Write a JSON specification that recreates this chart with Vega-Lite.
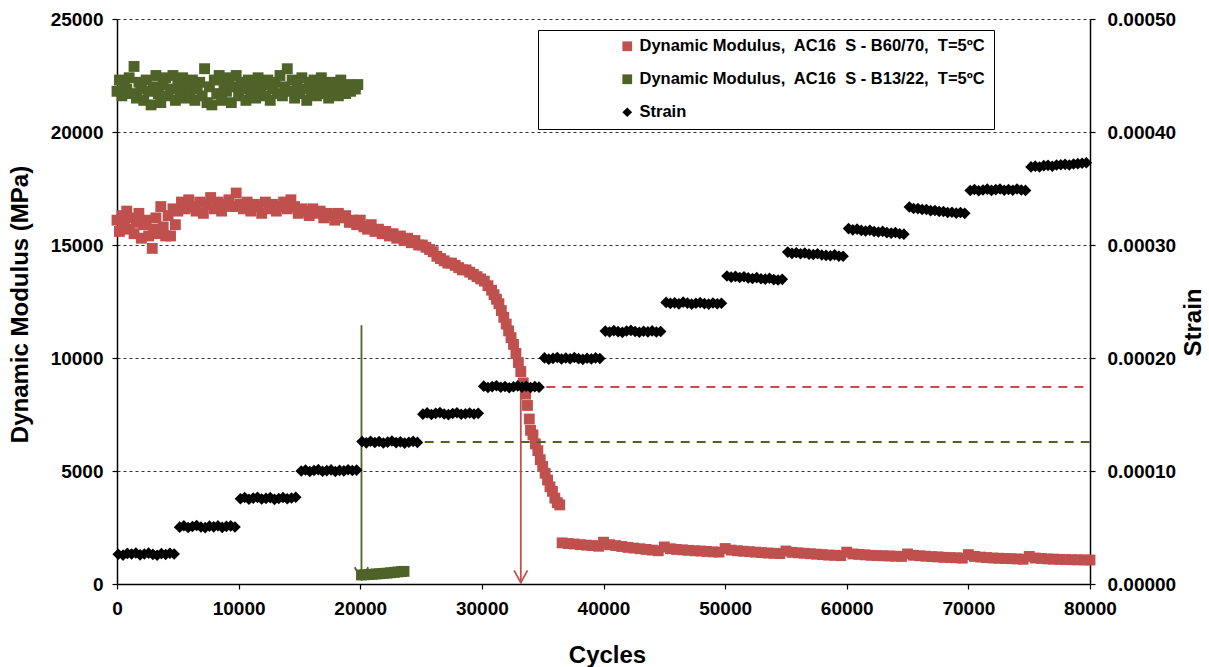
{
"$schema":"https://vega.github.io/schema/vega-lite/v6.json",
"width":973,"height":565,
"autosize":"none",
"padding":{"left":117,"top":19,"right":119,"bottom":83},
"background":"white",
"config":{"view":{"stroke":null},"font":"Liberation Sans",
"axis":{"labelFont":"Liberation Sans","labelFontWeight":"bold","labelFontSize":19,"labelColor":"#000","titleFont":"Liberation Sans","titleFontWeight":"bold","titleFontSize":24,"titleColor":"#000","domainColor":"#000","domainWidth":1.5,"tickColor":"#000","tickSize":5,"tickWidth":1.2,"grid":false}},
"datasets":{
"mod":[
{"c":0,"v":16100,"s":"R"},{"c":200,"v":15600,"s":"R"},{"c":400,"v":16300,"s":"R"},{"c":600,"v":15900,"s":"R"},{"c":800,"v":16500,"s":"R"},{"c":1000,"v":15700,"s":"R"},{"c":1200,"v":16200,"s":"R"},{"c":1400,"v":15500,"s":"R"},{"c":1600,"v":16000,"s":"R"},{"c":1800,"v":16400,"s":"R"},{"c":2000,"v":15300,"s":"R"},{"c":2200,"v":15900,"s":"R"},{"c":2400,"v":16100,"s":"R"},{"c":2600,"v":15400,"s":"R"},{"c":2900,"v":14850,"s":"R"},{"c":3000,"v":15700,"s":"R"},{"c":3200,"v":16200,"s":"R"},{"c":3400,"v":15500,"s":"R"},{"c":3600,"v":16700,"s":"R"},{"c":3800,"v":15800,"s":"R"},{"c":4000,"v":15400,"s":"R"},{"c":4200,"v":16300,"s":"R"},{"c":4400,"v":15400,"s":"R"},{"c":4600,"v":16600,"s":"R"},{"c":4800,"v":15900,"s":"R"},{"c":5000,"v":16500,"s":"R"},{"c":5300,"v":16900,"s":"R"},{"c":5600,"v":16600,"s":"R"},{"c":5900,"v":17000,"s":"R"},{"c":6200,"v":16700,"s":"R"},{"c":6500,"v":16500,"s":"R"},{"c":6800,"v":16900,"s":"R"},{"c":7100,"v":16400,"s":"R"},{"c":7400,"v":16800,"s":"R"},{"c":7700,"v":17100,"s":"R"},{"c":8000,"v":16600,"s":"R"},{"c":8300,"v":16900,"s":"R"},{"c":8600,"v":16500,"s":"R"},{"c":8900,"v":16800,"s":"R"},{"c":9200,"v":17000,"s":"R"},{"c":9500,"v":16700,"s":"R"},{"c":9800,"v":17300,"s":"R"},{"c":10100,"v":16800,"s":"R"},{"c":10400,"v":16600,"s":"R"},{"c":10700,"v":16900,"s":"R"},{"c":11000,"v":16500,"s":"R"},{"c":11300,"v":16800,"s":"R"},{"c":11600,"v":16700,"s":"R"},{"c":11900,"v":16400,"s":"R"},{"c":12200,"v":16900,"s":"R"},{"c":12500,"v":16600,"s":"R"},{"c":12800,"v":16800,"s":"R"},{"c":13100,"v":16500,"s":"R"},{"c":13400,"v":16700,"s":"R"},{"c":13700,"v":16900,"s":"R"},{"c":14000,"v":16600,"s":"R"},{"c":14300,"v":17000,"s":"R"},{"c":14600,"v":16700,"s":"R"},{"c":14900,"v":16400,"s":"R"},{"c":15200,"v":16600,"s":"R"},{"c":15500,"v":16500,"s":"R"},{"c":15800,"v":16300,"s":"R"},{"c":16100,"v":16600,"s":"R"},{"c":16400,"v":16400,"s":"R"},{"c":16700,"v":16500,"s":"R"},{"c":17000,"v":16200,"s":"R"},{"c":17300,"v":16400,"s":"R"},{"c":17600,"v":16300,"s":"R"},{"c":17900,"v":16100,"s":"R"},{"c":18200,"v":16400,"s":"R"},{"c":18500,"v":16200,"s":"R"},{"c":18800,"v":16300,"s":"R"},{"c":19100,"v":16000,"s":"R"},{"c":19400,"v":16100,"s":"R"},{"c":19700,"v":15900,"s":"R"},{"c":20000,"v":16100,"s":"R"},{"c":20300,"v":15800,"s":"R"},{"c":20600,"v":15700,"s":"R"},{"c":20900,"v":15900,"s":"R"},{"c":21200,"v":15600,"s":"R"},{"c":21500,"v":15700,"s":"R"},{"c":21800,"v":15500,"s":"R"},{"c":22100,"v":15600,"s":"R"},{"c":22400,"v":15400,"s":"R"},{"c":22700,"v":15500,"s":"R"},{"c":23000,"v":15300,"s":"R"},{"c":23300,"v":15400,"s":"R"},{"c":23600,"v":15200,"s":"R"},{"c":23900,"v":15300,"s":"R"},{"c":24200,"v":15100,"s":"R"},{"c":24500,"v":15200,"s":"R"},{"c":24800,"v":15000,"s":"R"},{"c":25100,"v":15000,"s":"R"},{"c":25400,"v":14900,"s":"R"},{"c":25700,"v":14800,"s":"R"},{"c":26000,"v":14700,"s":"R"},{"c":26300,"v":14500,"s":"R"},{"c":26600,"v":14400,"s":"R"},{"c":26900,"v":14300,"s":"R"},{"c":27200,"v":14200,"s":"R"},{"c":27500,"v":14200,"s":"R"},{"c":27800,"v":14100,"s":"R"},{"c":28100,"v":14000,"s":"R"},{"c":28400,"v":13900,"s":"R"},{"c":28700,"v":13900,"s":"R"},{"c":29000,"v":13800,"s":"R"},{"c":29300,"v":13700,"s":"R"},{"c":29600,"v":13600,"s":"R"},{"c":29900,"v":13500,"s":"R"},{"c":30200,"v":13400,"s":"R"},{"c":30500,"v":13200,"s":"R"},{"c":30800,"v":13000,"s":"R"},{"c":31000,"v":12800,"s":"R"},{"c":31200,"v":12600,"s":"R"},{"c":31400,"v":12400,"s":"R"},{"c":31600,"v":12100,"s":"R"},{"c":31800,"v":11800,"s":"R"},{"c":32000,"v":11500,"s":"R"},{"c":32200,"v":11200,"s":"R"},{"c":32400,"v":10900,"s":"R"},{"c":32600,"v":10600,"s":"R"},{"c":32800,"v":10200,"s":"R"},{"c":33000,"v":9800,"s":"R"},{"c":33200,"v":9400,"s":"R"},{"c":33400,"v":8900,"s":"R"},{"c":33600,"v":8400,"s":"R"},{"c":33750,"v":7900,"s":"R"},{"c":33900,"v":7300,"s":"R"},{"c":34000,"v":6800,"s":"R"},{"c":34200,"v":6600,"s":"R"},{"c":34400,"v":6200,"s":"R"},{"c":34600,"v":5900,"s":"R"},{"c":34800,"v":5500,"s":"R"},{"c":35000,"v":5200,"s":"R"},{"c":35200,"v":4900,"s":"R"},{"c":35400,"v":4600,"s":"R"},{"c":35600,"v":4300,"s":"R"},{"c":35800,"v":4100,"s":"R"},{"c":36000,"v":3800,"s":"R"},{"c":36200,"v":3600,"s":"R"},{"c":36400,"v":3500,"s":"R"},
{"c":36600,"v":1820,"s":"R"},{"c":37100,"v":1790,"s":"R"},{"c":37600,"v":1770,"s":"R"},{"c":38100,"v":1740,"s":"R"},{"c":38600,"v":1720,"s":"R"},{"c":39100,"v":1700,"s":"R"},{"c":39600,"v":1670,"s":"R"},{"c":40000,"v":1850,"s":"R"},{"c":40500,"v":1740,"s":"R"},{"c":41000,"v":1700,"s":"R"},{"c":41500,"v":1660,"s":"R"},{"c":42000,"v":1620,"s":"R"},{"c":42500,"v":1590,"s":"R"},{"c":43000,"v":1560,"s":"R"},{"c":43500,"v":1530,"s":"R"},{"c":44000,"v":1500,"s":"R"},{"c":44500,"v":1470,"s":"R"},{"c":45000,"v":1640,"s":"R"},{"c":45500,"v":1560,"s":"R"},{"c":46000,"v":1530,"s":"R"},{"c":46500,"v":1510,"s":"R"},{"c":47000,"v":1490,"s":"R"},{"c":47500,"v":1470,"s":"R"},{"c":48000,"v":1460,"s":"R"},{"c":48500,"v":1440,"s":"R"},{"c":49000,"v":1420,"s":"R"},{"c":49500,"v":1410,"s":"R"},{"c":50000,"v":1570,"s":"R"},{"c":50500,"v":1500,"s":"R"},{"c":51000,"v":1470,"s":"R"},{"c":51500,"v":1450,"s":"R"},{"c":52000,"v":1430,"s":"R"},{"c":52500,"v":1410,"s":"R"},{"c":53000,"v":1390,"s":"R"},{"c":53500,"v":1370,"s":"R"},{"c":54000,"v":1360,"s":"R"},{"c":54500,"v":1345,"s":"R"},{"c":55000,"v":1460,"s":"R"},{"c":55500,"v":1400,"s":"R"},{"c":56000,"v":1380,"s":"R"},{"c":56500,"v":1360,"s":"R"},{"c":57000,"v":1340,"s":"R"},{"c":57500,"v":1320,"s":"R"},{"c":58000,"v":1300,"s":"R"},{"c":58500,"v":1280,"s":"R"},{"c":59000,"v":1270,"s":"R"},{"c":59500,"v":1255,"s":"R"},{"c":60000,"v":1410,"s":"R"},{"c":60500,"v":1330,"s":"R"},{"c":61000,"v":1310,"s":"R"},{"c":61500,"v":1290,"s":"R"},{"c":62000,"v":1270,"s":"R"},{"c":62500,"v":1260,"s":"R"},{"c":63000,"v":1250,"s":"R"},{"c":63500,"v":1240,"s":"R"},{"c":64000,"v":1230,"s":"R"},{"c":64500,"v":1220,"s":"R"},{"c":65000,"v":1330,"s":"R"},{"c":65500,"v":1270,"s":"R"},{"c":66000,"v":1250,"s":"R"},{"c":66500,"v":1230,"s":"R"},{"c":67000,"v":1210,"s":"R"},{"c":67500,"v":1200,"s":"R"},{"c":68000,"v":1180,"s":"R"},{"c":68500,"v":1170,"s":"R"},{"c":69000,"v":1160,"s":"R"},{"c":69500,"v":1145,"s":"R"},{"c":70000,"v":1300,"s":"R"},{"c":70500,"v":1220,"s":"R"},{"c":71000,"v":1190,"s":"R"},{"c":71500,"v":1170,"s":"R"},{"c":72000,"v":1150,"s":"R"},{"c":72500,"v":1140,"s":"R"},{"c":73000,"v":1130,"s":"R"},{"c":73500,"v":1120,"s":"R"},{"c":74000,"v":1110,"s":"R"},{"c":74500,"v":1095,"s":"R"},{"c":75000,"v":1220,"s":"R"},{"c":75500,"v":1150,"s":"R"},{"c":76000,"v":1130,"s":"R"},{"c":76500,"v":1110,"s":"R"},{"c":77000,"v":1100,"s":"R"},{"c":77500,"v":1090,"s":"R"},{"c":78000,"v":1080,"s":"R"},{"c":78500,"v":1075,"s":"R"},{"c":79000,"v":1070,"s":"R"},{"c":79500,"v":1065,"s":"R"},{"c":80000,"v":1060,"s":"R"},
{"c":0,"v":21800,"s":"G"},{"c":200,"v":22300,"s":"G"},{"c":400,"v":21600,"s":"G"},{"c":600,"v":22100,"s":"G"},{"c":800,"v":21900,"s":"G"},{"c":1000,"v":22400,"s":"G"},{"c":1200,"v":21700,"s":"G"},{"c":1400,"v":22900,"s":"G"},{"c":1600,"v":21500,"s":"G"},{"c":1800,"v":22200,"s":"G"},{"c":2000,"v":21900,"s":"G"},{"c":2200,"v":21400,"s":"G"},{"c":2400,"v":22300,"s":"G"},{"c":2600,"v":21800,"s":"G"},{"c":2800,"v":21200,"s":"G"},{"c":3000,"v":22000,"s":"G"},{"c":3200,"v":22500,"s":"G"},{"c":3400,"v":21700,"s":"G"},{"c":3600,"v":21300,"s":"G"},{"c":3800,"v":22100,"s":"G"},{"c":4000,"v":22400,"s":"G"},{"c":4200,"v":21600,"s":"G"},{"c":4400,"v":21900,"s":"G"},{"c":4600,"v":22500,"s":"G"},{"c":4800,"v":21400,"s":"G"},{"c":5000,"v":22200,"s":"G"},{"c":5200,"v":21800,"s":"G"},{"c":5400,"v":22400,"s":"G"},{"c":5600,"v":21500,"s":"G"},{"c":5800,"v":22000,"s":"G"},{"c":6000,"v":21700,"s":"G"},{"c":6200,"v":22300,"s":"G"},{"c":6400,"v":21400,"s":"G"},{"c":6600,"v":21900,"s":"G"},{"c":6800,"v":22200,"s":"G"},{"c":7000,"v":21600,"s":"G"},{"c":7200,"v":22800,"s":"G"},{"c":7400,"v":21300,"s":"G"},{"c":7600,"v":22000,"s":"G"},{"c":7800,"v":21200,"s":"G"},{"c":8000,"v":22300,"s":"G"},{"c":8200,"v":21700,"s":"G"},{"c":8400,"v":22500,"s":"G"},{"c":8600,"v":21400,"s":"G"},{"c":8800,"v":22100,"s":"G"},{"c":9000,"v":21800,"s":"G"},{"c":9200,"v":22400,"s":"G"},{"c":9400,"v":21300,"s":"G"},{"c":9600,"v":22000,"s":"G"},{"c":9800,"v":22500,"s":"G"},{"c":10000,"v":21600,"s":"G"},{"c":10200,"v":22200,"s":"G"},{"c":10400,"v":21900,"s":"G"},{"c":10600,"v":21400,"s":"G"},{"c":10800,"v":22300,"s":"G"},{"c":11000,"v":21700,"s":"G"},{"c":11200,"v":22000,"s":"G"},{"c":11400,"v":21500,"s":"G"},{"c":11600,"v":22400,"s":"G"},{"c":11800,"v":21800,"s":"G"},{"c":12000,"v":22100,"s":"G"},{"c":12200,"v":21600,"s":"G"},{"c":12400,"v":22300,"s":"G"},{"c":12600,"v":21400,"s":"G"},{"c":12800,"v":21900,"s":"G"},{"c":13000,"v":22200,"s":"G"},{"c":13200,"v":21700,"s":"G"},{"c":13400,"v":22500,"s":"G"},{"c":13600,"v":21600,"s":"G"},{"c":13800,"v":22000,"s":"G"},{"c":14000,"v":22800,"s":"G"},{"c":14200,"v":21800,"s":"G"},{"c":14400,"v":22300,"s":"G"},{"c":14600,"v":21500,"s":"G"},{"c":14800,"v":22100,"s":"G"},{"c":15000,"v":21700,"s":"G"},{"c":15200,"v":22400,"s":"G"},{"c":15400,"v":21900,"s":"G"},{"c":15600,"v":21400,"s":"G"},{"c":15800,"v":22200,"s":"G"},{"c":16000,"v":21800,"s":"G"},{"c":16200,"v":22300,"s":"G"},{"c":16400,"v":21600,"s":"G"},{"c":16600,"v":22000,"s":"G"},{"c":16800,"v":22400,"s":"G"},{"c":17000,"v":21700,"s":"G"},{"c":17200,"v":22100,"s":"G"},{"c":17400,"v":21500,"s":"G"},{"c":17600,"v":22200,"s":"G"},{"c":17800,"v":21800,"s":"G"},{"c":18000,"v":22000,"s":"G"},{"c":18200,"v":21600,"s":"G"},{"c":18400,"v":22300,"s":"G"},{"c":18600,"v":21900,"s":"G"},{"c":18800,"v":21700,"s":"G"},{"c":19000,"v":22100,"s":"G"},{"c":19200,"v":21800,"s":"G"},{"c":19400,"v":22000,"s":"G"},{"c":19600,"v":21900,"s":"G"},{"c":19800,"v":22100,"s":"G"},
{"c":20100,"v":400,"s":"G"},{"c":20400,"v":410,"s":"G"},{"c":20700,"v":420,"s":"G"},{"c":21000,"v":430,"s":"G"},{"c":21300,"v":445,"s":"G"},{"c":21600,"v":455,"s":"G"},{"c":21900,"v":470,"s":"G"},{"c":22200,"v":480,"s":"G"},{"c":22500,"v":500,"s":"G"},{"c":22800,"v":515,"s":"G"},{"c":23100,"v":535,"s":"G"},{"c":23400,"v":550,"s":"G"},{"c":23600,"v":560,"s":"G"}
],
"strain":[
{"c":100,"v":2.63e-5,"s":"S"},{"c":500,"v":2.56e-5,"s":"S"},{"c":850,"v":2.71e-5,"s":"S"},{"c":1200,"v":2.65e-5,"s":"S"},{"c":1550,"v":2.74e-5,"s":"S"},{"c":1900,"v":2.58e-5,"s":"S"},{"c":2250,"v":2.66e-5,"s":"S"},{"c":2600,"v":2.73e-5,"s":"S"},{"c":2950,"v":2.62e-5,"s":"S"},{"c":3300,"v":2.55e-5,"s":"S"},{"c":3650,"v":2.69e-5,"s":"S"},{"c":4000,"v":2.61e-5,"s":"S"},{"c":4350,"v":2.72e-5,"s":"S"},{"c":4700,"v":2.65e-5,"s":"S"},
{"c":5150,"v":5.03e-5,"s":"S"},{"c":5500,"v":5.15e-5,"s":"S"},{"c":5850,"v":5.00e-5,"s":"S"},{"c":6200,"v":5.09e-5,"s":"S"},{"c":6550,"v":5.18e-5,"s":"S"},{"c":6900,"v":5.04e-5,"s":"S"},{"c":7250,"v":4.99e-5,"s":"S"},{"c":7600,"v":5.12e-5,"s":"S"},{"c":7950,"v":5.06e-5,"s":"S"},{"c":8300,"v":5.16e-5,"s":"S"},{"c":8650,"v":5.01e-5,"s":"S"},{"c":9000,"v":5.10e-5,"s":"S"},{"c":9350,"v":5.14e-5,"s":"S"},{"c":9700,"v":5.05e-5,"s":"S"},
{"c":10150,"v":7.54e-5,"s":"S"},{"c":10500,"v":7.65e-5,"s":"S"},{"c":10850,"v":7.50e-5,"s":"S"},{"c":11200,"v":7.60e-5,"s":"S"},{"c":11550,"v":7.67e-5,"s":"S"},{"c":11900,"v":7.52e-5,"s":"S"},{"c":12250,"v":7.58e-5,"s":"S"},{"c":12600,"v":7.64e-5,"s":"S"},{"c":12950,"v":7.49e-5,"s":"S"},{"c":13300,"v":7.57e-5,"s":"S"},{"c":13650,"v":7.66e-5,"s":"S"},{"c":14000,"v":7.54e-5,"s":"S"},{"c":14350,"v":7.61e-5,"s":"S"},{"c":14700,"v":7.68e-5,"s":"S"},
{"c":15150,"v":1.000e-4,"s":"S"},{"c":15500,"v":1.009e-4,"s":"S"},{"c":15850,"v":0.995e-4,"s":"S"},{"c":16200,"v":1.004e-4,"s":"S"},{"c":16550,"v":1.012e-4,"s":"S"},{"c":16900,"v":0.998e-4,"s":"S"},{"c":17250,"v":1.003e-4,"s":"S"},{"c":17600,"v":1.010e-4,"s":"S"},{"c":17950,"v":0.996e-4,"s":"S"},{"c":18300,"v":1.006e-4,"s":"S"},{"c":18650,"v":1.001e-4,"s":"S"},{"c":19000,"v":1.011e-4,"s":"S"},{"c":19350,"v":1.004e-4,"s":"S"},{"c":19700,"v":1.008e-4,"s":"S"},
{"c":20150,"v":1.260e-4,"s":"S"},{"c":20500,"v":1.249e-4,"s":"S"},{"c":20850,"v":1.263e-4,"s":"S"},{"c":21200,"v":1.252e-4,"s":"S"},{"c":21550,"v":1.261e-4,"s":"S"},{"c":21900,"v":1.248e-4,"s":"S"},{"c":22250,"v":1.256e-4,"s":"S"},{"c":22600,"v":1.265e-4,"s":"S"},{"c":22950,"v":1.251e-4,"s":"S"},{"c":23300,"v":1.258e-4,"s":"S"},{"c":23650,"v":1.247e-4,"s":"S"},{"c":24000,"v":1.255e-4,"s":"S"},{"c":24350,"v":1.262e-4,"s":"S"},{"c":24700,"v":1.253e-4,"s":"S"},
{"c":25150,"v":1.503e-4,"s":"S"},{"c":25500,"v":1.514e-4,"s":"S"},{"c":25850,"v":1.500e-4,"s":"S"},{"c":26200,"v":1.510e-4,"s":"S"},{"c":26550,"v":1.517e-4,"s":"S"},{"c":26900,"v":1.505e-4,"s":"S"},{"c":27250,"v":1.499e-4,"s":"S"},{"c":27600,"v":1.509e-4,"s":"S"},{"c":27950,"v":1.515e-4,"s":"S"},{"c":28300,"v":1.502e-4,"s":"S"},{"c":28650,"v":1.507e-4,"s":"S"},{"c":29000,"v":1.513e-4,"s":"S"},{"c":29350,"v":1.504e-4,"s":"S"},{"c":29700,"v":1.510e-4,"s":"S"},
{"c":30150,"v":1.751e-4,"s":"S"},{"c":30500,"v":1.739e-4,"s":"S"},{"c":30850,"v":1.747e-4,"s":"S"},{"c":31200,"v":1.754e-4,"s":"S"},{"c":31550,"v":1.741e-4,"s":"S"},{"c":31900,"v":1.748e-4,"s":"S"},{"c":32250,"v":1.737e-4,"s":"S"},{"c":32600,"v":1.745e-4,"s":"S"},{"c":32950,"v":1.753e-4,"s":"S"},{"c":33300,"v":1.742e-4,"s":"S"},{"c":33650,"v":1.750e-4,"s":"S"},{"c":34000,"v":1.739e-4,"s":"S"},{"c":34350,"v":1.747e-4,"s":"S"},{"c":34700,"v":1.742e-4,"s":"S"},
{"c":35150,"v":2.001e-4,"s":"S"},{"c":35500,"v":1.990e-4,"s":"S"},{"c":35850,"v":1.997e-4,"s":"S"},{"c":36200,"v":2.004e-4,"s":"S"},{"c":36550,"v":1.991e-4,"s":"S"},{"c":36900,"v":2.000e-4,"s":"S"},{"c":37250,"v":1.993e-4,"s":"S"},{"c":37600,"v":2.005e-4,"s":"S"},{"c":37950,"v":1.994e-4,"s":"S"},{"c":38300,"v":1.988e-4,"s":"S"},{"c":38650,"v":1.998e-4,"s":"S"},{"c":39000,"v":1.992e-4,"s":"S"},{"c":39350,"v":2.001e-4,"s":"S"},{"c":39700,"v":1.996e-4,"s":"S"},
{"c":40150,"v":2.238e-4,"s":"S"},{"c":40500,"v":2.230e-4,"s":"S"},{"c":40850,"v":2.242e-4,"s":"S"},{"c":41200,"v":2.233e-4,"s":"S"},{"c":41550,"v":2.227e-4,"s":"S"},{"c":41900,"v":2.239e-4,"s":"S"},{"c":42250,"v":2.244e-4,"s":"S"},{"c":42600,"v":2.235e-4,"s":"S"},{"c":42950,"v":2.228e-4,"s":"S"},{"c":43300,"v":2.237e-4,"s":"S"},{"c":43650,"v":2.231e-4,"s":"S"},{"c":44000,"v":2.240e-4,"s":"S"},{"c":44350,"v":2.230e-4,"s":"S"},{"c":44700,"v":2.234e-4,"s":"S"},
{"c":45150,"v":2.492e-4,"s":"S"},{"c":45500,"v":2.483e-4,"s":"S"},{"c":45850,"v":2.488e-4,"s":"S"},{"c":46200,"v":2.479e-4,"s":"S"},{"c":46550,"v":2.494e-4,"s":"S"},{"c":46900,"v":2.486e-4,"s":"S"},{"c":47250,"v":2.477e-4,"s":"S"},{"c":47600,"v":2.485e-4,"s":"S"},{"c":47950,"v":2.490e-4,"s":"S"},{"c":48300,"v":2.481e-4,"s":"S"},{"c":48650,"v":2.477e-4,"s":"S"},{"c":49000,"v":2.487e-4,"s":"S"},{"c":49350,"v":2.480e-4,"s":"S"},{"c":49700,"v":2.484e-4,"s":"S"},
{"c":50150,"v":2.726e-4,"s":"S"},{"c":50500,"v":2.716e-4,"s":"S"},{"c":50850,"v":2.722e-4,"s":"S"},{"c":51200,"v":2.712e-4,"s":"S"},{"c":51550,"v":2.719e-4,"s":"S"},{"c":51900,"v":2.709e-4,"s":"S"},{"c":52250,"v":2.704e-4,"s":"S"},{"c":52600,"v":2.711e-4,"s":"S"},{"c":52950,"v":2.701e-4,"s":"S"},{"c":53300,"v":2.698e-4,"s":"S"},{"c":53650,"v":2.706e-4,"s":"S"},{"c":54000,"v":2.694e-4,"s":"S"},{"c":54350,"v":2.690e-4,"s":"S"},{"c":54700,"v":2.696e-4,"s":"S"},
{"c":55150,"v":2.937e-4,"s":"S"},{"c":55500,"v":2.926e-4,"s":"S"},{"c":55850,"v":2.932e-4,"s":"S"},{"c":56200,"v":2.923e-4,"s":"S"},{"c":56550,"v":2.929e-4,"s":"S"},{"c":56900,"v":2.919e-4,"s":"S"},{"c":57250,"v":2.916e-4,"s":"S"},{"c":57600,"v":2.922e-4,"s":"S"},{"c":57950,"v":2.912e-4,"s":"S"},{"c":58300,"v":2.908e-4,"s":"S"},{"c":58650,"v":2.905e-4,"s":"S"},{"c":59000,"v":2.913e-4,"s":"S"},{"c":59350,"v":2.902e-4,"s":"S"},{"c":59700,"v":2.900e-4,"s":"S"},
{"c":60150,"v":3.145e-4,"s":"S"},{"c":60500,"v":3.134e-4,"s":"S"},{"c":60850,"v":3.140e-4,"s":"S"},{"c":61200,"v":3.129e-4,"s":"S"},{"c":61550,"v":3.124e-4,"s":"S"},{"c":61900,"v":3.131e-4,"s":"S"},{"c":62250,"v":3.120e-4,"s":"S"},{"c":62600,"v":3.115e-4,"s":"S"},{"c":62950,"v":3.121e-4,"s":"S"},{"c":63300,"v":3.110e-4,"s":"S"},{"c":63650,"v":3.105e-4,"s":"S"},{"c":64000,"v":3.111e-4,"s":"S"},{"c":64350,"v":3.100e-4,"s":"S"},{"c":64700,"v":3.096e-4,"s":"S"},
{"c":65150,"v":3.336e-4,"s":"S"},{"c":65500,"v":3.323e-4,"s":"S"},{"c":65850,"v":3.322e-4,"s":"S"},{"c":66200,"v":3.314e-4,"s":"S"},{"c":66550,"v":3.314e-4,"s":"S"},{"c":66900,"v":3.304e-4,"s":"S"},{"c":67250,"v":3.305e-4,"s":"S"},{"c":67600,"v":3.296e-4,"s":"S"},{"c":67950,"v":3.297e-4,"s":"S"},{"c":68300,"v":3.288e-4,"s":"S"},{"c":68650,"v":3.290e-4,"s":"S"},{"c":69000,"v":3.282e-4,"s":"S"},{"c":69350,"v":3.288e-4,"s":"S"},{"c":69700,"v":3.280e-4,"s":"S"},
{"c":70150,"v":3.482e-4,"s":"S"},{"c":70500,"v":3.491e-4,"s":"S"},{"c":70850,"v":3.480e-4,"s":"S"},{"c":71200,"v":3.487e-4,"s":"S"},{"c":71550,"v":3.494e-4,"s":"S"},{"c":71900,"v":3.483e-4,"s":"S"},{"c":72250,"v":3.490e-4,"s":"S"},{"c":72600,"v":3.495e-4,"s":"S"},{"c":72950,"v":3.484e-4,"s":"S"},{"c":73300,"v":3.491e-4,"s":"S"},{"c":73650,"v":3.485e-4,"s":"S"},{"c":74000,"v":3.496e-4,"s":"S"},{"c":74350,"v":3.487e-4,"s":"S"},{"c":74700,"v":3.483e-4,"s":"S"},
{"c":75150,"v":3.691e-4,"s":"S"},{"c":75500,"v":3.698e-4,"s":"S"},{"c":75850,"v":3.690e-4,"s":"S"},{"c":76200,"v":3.702e-4,"s":"S"},{"c":76550,"v":3.705e-4,"s":"S"},{"c":76900,"v":3.697e-4,"s":"S"},{"c":77250,"v":3.708e-4,"s":"S"},{"c":77600,"v":3.710e-4,"s":"S"},{"c":77950,"v":3.714e-4,"s":"S"},{"c":78300,"v":3.708e-4,"s":"S"},{"c":78650,"v":3.717e-4,"s":"S"},{"c":79000,"v":3.720e-4,"s":"S"},{"c":79350,"v":3.724e-4,"s":"S"},{"c":79700,"v":3.728e-4,"s":"S"}
],
"arr":[{"c":20100,"y1":11450,"y2":200,"k":"G"},{"c":33200,"y1":8900,"y2":60,"k":"R"}],
"dash":[{"c1":25300,"c2":80000,"y":6280,"k":"G"},{"c1":35300,"c2":80000,"y":8717,"k":"R"}]
},
"layer":[
{"layer":[
{"data":{"name":"mod"},
"mark":{"type":"point","filled":true,"opacity":1,"size":118},
"encoding":{
"x":{"field":"c","type":"quantitative","title":"Cycles","scale":{"domain":[0,80000],"nice":false},"axis":{"values":[0,10000,20000,30000,40000,50000,60000,70000,80000],"format":"d","labelPadding":10,"titleX":490,"titleY":71,"titleBaseline":"middle","labelFlush":false}},
"y":{"field":"v","type":"quantitative","title":"Dynamic Modulus (MPa)","scale":{"domain":[0,25000],"nice":false},"axis":{"values":[0,5000,10000,15000,20000,25000],"format":"d","grid":true,"gridDash":[3,3],"gridColor":"#000","gridWidth":0.8,"labelPadding":9,"titleX":-97,"titleY":285,"titleAngle":270,"titleBaseline":"middle","titleAlign":"center"}},
"color":{"field":"s","type":"nominal","scale":{"domain":["R","G","S"],"range":["#C0504D","#4F6228","#000000"]},
"legend":{"orient":"none","legendX":421,"legendY":11,"fillColor":"white","strokeColor":"black","padding":8,"title":"\u00a0","titleOrient":"left","titleFontSize":10,"titlePadding":73,"labelFont":"Liberation Sans","labelFontWeight":"bold","labelFontSize":16.5,"labelColor":"#000","labelLimit":700,"symbolSize":95,"rowPadding":16,"labelOffset":4,"symbolStrokeWidth":0,
"labelExpr":"datum.value == 'R' ? 'Dynamic Modulus,\u00a0 AC16\u00a0 S - B60/70,\u00a0 T=5ºC\u00a0\u00a0\u00a0\u00a0\u00a0\u00a0' : datum.value == 'G' ? 'Dynamic Modulus,\u00a0 AC16\u00a0 S - B13/22,\u00a0 T=5ºC' : 'Strain'"}},
"shape":{"field":"s","type":"nominal","scale":{"domain":["R","G","S"],"range":["square","square","diamond"]},
"legend":{"orient":"none","legendX":421,"legendY":11,"fillColor":"white","strokeColor":"black","padding":8,"title":"\u00a0","titleOrient":"left","titleFontSize":10,"titlePadding":73,"labelFont":"Liberation Sans","labelFontWeight":"bold","labelFontSize":16.5,"labelColor":"#000","labelLimit":700,"symbolSize":95,"rowPadding":16,"labelOffset":4,"symbolStrokeWidth":0,
"labelExpr":"datum.value == 'R' ? 'Dynamic Modulus,\u00a0 AC16\u00a0 S - B60/70,\u00a0 T=5ºC\u00a0\u00a0\u00a0\u00a0\u00a0\u00a0' : datum.value == 'G' ? 'Dynamic Modulus,\u00a0 AC16\u00a0 S - B13/22,\u00a0 T=5ºC' : 'Strain'"}}
}},
{"data":{"name":"dash"},
"mark":{"type":"rule","strokeWidth":2,"strokeDash":[9,7]},
"encoding":{
"x":{"field":"c1","type":"quantitative","title":"Cycles"},
"x2":{"field":"c2"},
"y":{"field":"y","type":"quantitative","title":"Dynamic Modulus (MPa)"},
"color":{"condition":{"test":"datum.k == 'G'","value":"#4F6228"},"value":"#C0504D"}
}},
{"data":{"name":"arr"},
"mark":{"type":"rule","strokeWidth":1.8},
"encoding":{
"x":{"field":"c","type":"quantitative","title":"Cycles"},
"y":{"field":"y1","type":"quantitative","title":"Dynamic Modulus (MPa)"},
"y2":{"field":"y2"},
"color":{"condition":{"test":"datum.k == 'G'","value":"#4F6228"},"value":"#C0504D"}
}},
{"data":{"name":"arr"},
"mark":{"type":"point","shape":"M-0.55,-1L0,0L0.55,-1","filled":false,"size":600,"strokeWidth":1.8,"opacity":1},
"encoding":{
"x":{"field":"c","type":"quantitative","title":"Cycles"},
"y":{"field":"y2","type":"quantitative","title":"Dynamic Modulus (MPa)"},
"color":{"condition":{"test":"datum.k == 'G'","value":"#4F6228"},"value":"#C0504D"}
}}
]},
{"data":{"name":"strain"},
"mark":{"type":"point","filled":true,"opacity":1,"size":135},
"encoding":{
"x":{"field":"c","type":"quantitative","title":"Cycles"},
"y":{"field":"v","type":"quantitative","title":"Strain","scale":{"domain":[0,0.0005],"nice":false},"axis":{"orient":"right","values":[0,0.0001,0.0002,0.0003,0.0004,0.0005],"format":".5f","labelPadding":12,"titleX":103,"titleY":303,"titleAngle":270,"titleBaseline":"middle","titleAlign":"center"}},
"color":{"field":"s","type":"nominal"},
"shape":{"field":"s","type":"nominal"}
}}
],
"resolve":{"scale":{"y":"independent"},"axis":{"y":"independent"}}
}
